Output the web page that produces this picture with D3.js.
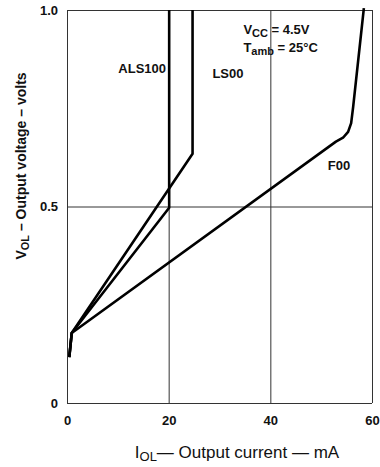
<!DOCTYPE html>
<html>
<head>
<meta charset="utf-8">
<script src="https://cdn.jsdelivr.net/npm/d3@7"></script>
<style>
  html, body { margin: 0; padding: 0; background: #fff; }
  svg { display: block; font-family: "Liberation Sans", Arial, sans-serif; }
</style>
</head>
<body>
<div id="chart"></div>
<script>
// tick values
const xTicks = [0, 20, 40, 60];
const yTicks = [0, 0.5, 1.0];
const yTickLabels = ["0", "0.5", "1.0"];

// I_OL (mA) and V_OL (V) for each family
const als100Current = [0.45, 0.93, 20.1, 20.1];
const als100Voltage = [0.117, 0.178, 0.497, 1.0];

const ls00Current = [0.45, 0.93, 24.7, 24.7];
const ls00Voltage = [0.117, 0.178, 0.634, 1.0];

const f00Current = [0.45, 0.93, 52.9, 54.3, 55.3, 55.9, 56.3, 58.4];
const f00Voltage = [0.117, 0.178, 0.665, 0.675, 0.69, 0.712, 0.754, 1.005];

const seriesNames = ["ALS100", "LS00", "F00"];
// where each name sits, in data units (mA, V)
const labelCurrent = [10.1, 28.6, 51.3];
const labelVoltage = [0.84, 0.826, 0.593];

const width = 380, height = 467;
const margin = { top: 10, right: 8, bottom: 64, left: 67 };

const svg = d3.select("#chart").append("svg")
  .attr("width", width)
  .attr("height", height);

const x = d3.scaleLinear()
  .domain([0, 60])
  .range([margin.left, width - margin.right]);

const y = d3.scaleLinear()
  .domain([0, 1])
  .range([height - margin.bottom, margin.top]);

// grid + frame
const grid = svg.append("g").attr("stroke", "#333").attr("stroke-width", 1).attr("fill", "none");

grid.selectAll("line.vx")
  .data(xTicks)
  .join("line")
  .attr("x1", d => x(d) + 0.5)
  .attr("x2", d => x(d) + 0.5)
  .attr("y1", y(0))
  .attr("y2", y(1));

grid.selectAll("line.hy")
  .data(yTicks)
  .join("line")
  .attr("x1", x(0))
  .attr("x2", x(60))
  .attr("y1", d => y(d) + 0.5)
  .attr("y2", d => y(d) + 0.5);

// axes (labels only, the frame is drawn above)
const xAxis = g => g
  .attr("transform", `translate(0,${y(0)})`)
  .call(d3.axisBottom(x).tickValues(xTicks).tickSize(0).tickPadding(13).tickFormat(d3.format("d")))
  .call(g => g.select(".domain").remove());

const yAxis = g => g
  .attr("transform", `translate(${x(0)},0)`)
  .call(d3.axisLeft(y).tickValues(yTicks).tickSize(0).tickPadding(9)
    .tickFormat((d, i) => yTickLabels[i]))
  .call(g => g.select(".domain").remove());

svg.append("g").call(xAxis);
svg.append("g").call(yAxis);

svg.selectAll(".tick text")
  .attr("font-family", "Liberation Sans, Arial, sans-serif")
  .attr("font-size", 13)
  .attr("font-weight", "bold")
  .attr("fill", "#111");

// curves
const curves = [
  d3.zip(als100Current, als100Voltage),
  d3.zip(ls00Current, ls00Voltage),
  d3.zip(f00Current, f00Voltage)
];

const line = d3.line()
  .x(d => x(d[0]))
  .y(d => y(d[1]));

svg.append("g")
  .selectAll("path")
  .data(curves)
  .join("path")
  .attr("fill", "none")
  .attr("stroke", "#000")
  .attr("stroke-width", 2.6)
  .attr("stroke-linejoin", "round")
  .attr("d", line);

// series names
svg.append("g")
  .selectAll("text")
  .data(seriesNames)
  .join("text")
  .attr("x", (d, i) => x(labelCurrent[i]))
  .attr("y", (d, i) => y(labelVoltage[i]))
  .attr("font-size", 13)
  .attr("font-weight", "bold")
  .attr("fill", "#111")
  .text(d => d);

// conditions
const cond = svg.append("g")
  .attr("font-size", 13)
  .attr("font-weight", "bold")
  .attr("fill", "#111");

const vcc = cond.append("text").attr("x", x(34.7)).attr("y", y(0.94));
vcc.append("tspan").text("V");
vcc.append("tspan").attr("dy", 3).attr("font-size", 11).text("CC");
vcc.append("tspan").attr("dy", -3).text(" = 4.5V");

const tamb = cond.append("text").attr("x", x(34.7)).attr("y", y(0.893));
tamb.append("tspan").text("T");
tamb.append("tspan").attr("dy", 3).attr("font-size", 11).text("amb");
tamb.append("tspan").attr("dy", -3).text(" = 25°C");

// axis titles
const xTitle = svg.append("text")
  .attr("x", 237)
  .attr("y", 458)
  .attr("text-anchor", "middle")
  .attr("font-size", 17)
  .attr("fill", "#111");
xTitle.append("tspan").text("I");
xTitle.append("tspan").attr("dy", 3).attr("font-size", 13).text("OL");
xTitle.append("tspan").attr("dy", -3).text("— Output current — mA");

const yTitle = svg.append("text")
  .attr("transform", "translate(26,166) rotate(-90)")
  .attr("text-anchor", "middle")
  .attr("font-size", 14)
  .attr("font-weight", "bold")
  .attr("fill", "#111");
yTitle.append("tspan").text("V");
yTitle.append("tspan").attr("dy", 3).attr("font-size", 11).text("OL");
yTitle.append("tspan").attr("dy", -3).text("  – Output voltage – volts");
</script>
</body>
</html>
